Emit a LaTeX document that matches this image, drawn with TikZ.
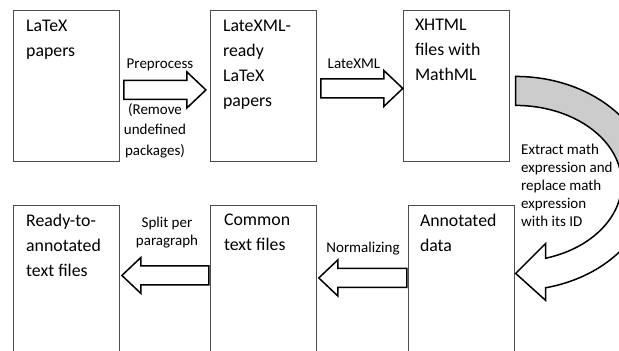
\documentclass[tikz,border=0pt]{standalone}
\usepackage{fontspec}
\setmainfont{Carlito}
\usetikzlibrary{positioning,calc}

\tikzset{
  box/.style={draw=black!70, line width=0.9pt, minimum width=106pt, minimum height=151pt, inner sep=0pt},
  boxtext/.style={font=\fontsize{17.8pt}{25pt}\selectfont, align=left, inner sep=0pt, anchor=north west,
    execute at begin node={\rule{0pt}{14pt}}},
  lbl/.style={font=\fontsize{15pt}{18pt}\selectfont, align=center, inner sep=0pt, anchor=north,
    execute at begin node={\rule{0pt}{12pt}}},
  fatarrow/.style={draw=black, line width=1.5pt, fill=white, line join=miter,
    to path={let \p1=(\tikztostart), \p2=(\tikztotarget), \p3=($(\p2)!19pt!(\p1)$) in
      (\x1,\y1+9.5pt) -- (\x3,\y1+9.5pt) -- (\x3,\y1+18pt) -- (\x2,\y1)
      -- (\x3,\y1-18pt) -- (\x3,\y1-9.5pt) -- (\x1,\y1-9.5pt) -- cycle}},
  curvefill/.style={fill=black!20},
}

\begin{document}
\begin{tikzpicture}
  \useasboundingbox (0,0) rectangle (619pt,-351pt);

  % top row
  \node [box, anchor=north west] (latex) at (13pt,-10pt) {};
  \node [box, right=90pt of latex] (ready) {};
  \node [box, right=86pt of ready] (xhtml) {};

  % bottom row
  \node [box, anchor=north west] (rta) at (13pt,-205pt) {};
  \node [box, right=90pt of rta] (common) {};
  \node [box, right=91pt of common] (annot) {};

  % box texts
  \node [boxtext] (latex-t) at ([shift={(13pt,-10pt)}]latex.north west) {LaTeX\\papers};
  \node [boxtext] (ready-t) at ([shift={(13pt,-10pt)}]ready.north west) {LateXML-\\ready\\LaTeX\\papers};
  \node [boxtext] (xhtml-t) at ([shift={(12pt,-9pt)}]xhtml.north west) {XHTML\\files with\\MathML};
  \node [boxtext] (rta-t) at ([shift={(13pt,-9pt)}]rta.north west) {Ready-to-\\annotated\\text files};
  \node [boxtext] (common-t) at ([shift={(14pt,-9pt)}]common.north west) {Common\\text files};
  \node [boxtext] (annot-t) at ([shift={(12pt,-9pt)}]annot.north west) {Annotated\\data};

  % straight arrows
  \draw [fatarrow] ([shift={(4pt,-4pt)}]latex.east) to ([shift={(-4pt,-4pt)}]ready.west);
  \draw [fatarrow] ([shift={(4pt,-2.5pt)}]ready.east) to ([shift={(0pt,-2.5pt)}]xhtml.west);
  \draw [fatarrow] ([shift={(-1pt,3pt)}]annot.west) to ([shift={(2pt,3pt)}]common.east);
  \draw [fatarrow] ([shift={(-1pt,5.5pt)}]common.west) to ([shift={(2pt,5.5pt)}]rta.east);

  % curved arrow
  \coordinate (bend) at ([shift={(6pt,-97.5pt)}]xhtml.east);
  \fill [curvefill] ([shift={(0,107pt)}]bend) arc[start angle=90, end angle=0, x radius=135pt, y radius=107pt]
    -- ([shift={(106pt,0)}]bend) arc[start angle=0, end angle=90, x radius=106pt, y radius=78pt] -- cycle;
  \draw [line width=1.5pt, line join=miter] ([shift={(0,107pt)}]bend)
    arc[start angle=90, end angle=-77.2, x radius=135pt, y radius=107pt]
    -- ([shift={(30pt,-117pt)}]bend) -- ([shift={(0pt,-90pt)}]bend) -- ([shift={(30pt,-60pt)}]bend)
    -- ([shift={(29.9pt,-74.8pt)}]bend)
    arc[start angle=-73.6, end angle=90, x radius=106pt, y radius=78pt] -- cycle;

  % labels
  \node [lbl] (pre) at (160pt,-56pt) {Preprocess};
  \node [lbl, font=\fontsize{15pt}{20.5pt}\selectfont] (pre-note) at (155pt,-103pt) {(Remove\\undefined\\packages)};
  \node [lbl] (lxml) at (354pt,-56pt) {LateXML};
  \node [lbl] (split) at (167pt,-217pt) {Split per\\paragraph};
  \node [lbl] (norm) at (363pt,-240pt) {Normalizing};
  \node [lbl, align=left, anchor=north west] (extract) at (521pt,-144pt) {Extract math\\expression and\\replace math\\expression\\with its ID};
\end{tikzpicture}
\end{document}
